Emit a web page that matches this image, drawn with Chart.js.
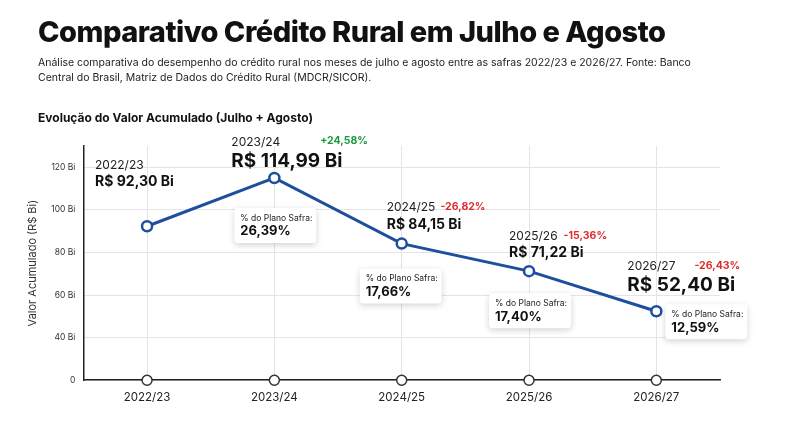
<!DOCTYPE html>
<html>
<head>
<meta charset="utf-8">
<script src="https://cdn.jsdelivr.net/npm/chart.js@4"></script>
<style>
  body { margin:0; background:#fff; font-family:Inter, "Noto Sans", sans-serif; }
  #wrap { position:relative; width:790px; height:422px; }
  canvas { position:absolute; left:0; top:0; }
  h1 { position:absolute; left:38px; top:14px; margin:0; font-size:29px; font-weight:800; color:#111; letter-spacing:-0.5px; }
  .sub { position:absolute; left:38px; top:55px; width:685px; font-size:10.5px; line-height:15px; color:#222; }
  .sec { position:absolute; left:38px; top:110px; font-size:12px; font-weight:700; color:#111; }
</style>
</head>
<body>
<div id="wrap">
  <canvas id="chart" width="790" height="422"></canvas>
  <h1>Comparativo Crédito Rural em Julho e Agosto</h1>
  <div class="sub">Análise comparativa do desempenho do crédito rural nos meses de julho e agosto entre as safras 2022/23 e 2026/27. Fonte: Banco Central do Brasil, Matriz de Dados do Crédito Rural (MDCR/SICOR).</div>
  <div class="sec">Evolução do Valor Acumulado (Julho + Agosto)</div>
</div>
<script>
const safras = ['2022/23', '2023/24', '2024/25', '2025/26', '2026/27'];
const valores = [92.30, 114.99, 84.15, 71.22, 52.40];
const valorLabels = ['R$ 92,30 Bi', 'R$ 114,99 Bi', 'R$ 84,15 Bi', 'R$ 71,22 Bi', 'R$ 52,40 Bi'];
const variacoes = ['', '+24,58%', '-26,82%', '-15,36%', '-26,43%'];
const planoSafra = ['', '26,39%', '17,66%', '17,40%', '12,59%'];
const yTicks = [20, 40, 60, 80, 100, 120]; // 20 is shown as "0" (broken axis)

// label offsets relative to each point (layout only)
const layout = [
  { lx: -52, ly: -67, big: false, gap: 0, bx: 0, by: 0 },
  { lx: -43, ly: -38, big: true, gap: 40, bx: -40, by: 30 },
  { lx: -15, ly: -42, big: false, gap: 5, bx: -42, by: 25 },
  { lx: -20, ly: -41, big: false, gap: 6, bx: -40, by: 22 },
  { lx: -29, ly: -47, big: true, gap: 19, bx: 9, by: -7 }
];

const annot = {
  id: 'annot',
  afterDatasetsDraw(chart) {
    const c = chart.ctx;
    const pts = chart.getDatasetMeta(0).data;
    c.save();
    c.textBaseline = 'top';
    pts.forEach((p, i) => {
      const L = layout[i];
      const x = p.x + L.lx, y = p.y + L.ly;
      const yy = L.big ? y - 4 : y;
      c.fillStyle = '#222';
      c.font = '12px Inter';
      c.fillText(safras[i], x, yy);
      const yw = c.measureText(safras[i]).width;
      c.fillStyle = '#111';
      c.font = 'bold ' + (L.big ? '19px' : '14px') + ' Inter';
      c.fillText(valorLabels[i], x, L.big ? y + 12 : y + 16);
      if (variacoes[i]) {
        c.fillStyle = variacoes[i][0] === '+' ? '#1a9a3a' : '#e02b2b';
        c.font = 'bold 10.5px Inter';
        c.fillText(variacoes[i], x + yw + L.gap, yy);
      }
      if (planoSafra[i]) {
        const bx = p.x + L.bx, by = p.y + L.by, w = 82, h = 35;
        c.shadowColor = 'rgba(0,0,0,0.18)';
        c.shadowBlur = 6;
        c.shadowOffsetY = 2;
        c.fillStyle = '#fff';
        c.beginPath();
        c.roundRect(bx, by, w, h, 4);
        c.fill();
        c.shadowColor = 'transparent';
        c.fillStyle = '#222';
        c.font = '8.5px Inter';
        c.fillText('% do Plano Safra:', bx + 6, by + 6);
        c.fillStyle = '#111';
        c.font = 'bold 13px Inter';
        c.fillText(planoSafra[i], bx + 6, by + 17);
      }
    });
    c.restore();
  }
};

new Chart(document.getElementById('chart'), {
  type: 'line',
  data: {
    labels: safras,
    datasets: [
      {
        data: valores,
        borderColor: '#1e4f9c',
        borderWidth: 3,
        pointRadius: 5,
        pointBorderWidth: 2.5,
        pointBackgroundColor: '#fff',
        pointBorderColor: '#1e4f9c',
        tension: 0
      },
      {
        // axis markers at the baseline
        data: safras.map(() => 20),
        showLine: false,
        pointRadius: 5,
        pointBorderWidth: 1.5,
        pointBackgroundColor: '#fff',
        pointBorderColor: '#333',
        clip: false
      }
    ]
  },
  options: {
    responsive: false,
    animation: false,
    layout: { padding: { top: 146, left: 22, right: 70, bottom: 8 } },
    plugins: { legend: { display: false }, tooltip: { enabled: false } },
    scales: {
      x: {
        offset: true,
        grid: { color: '#e4e4e4', drawTicks: false },
        border: { color: '#222', width: 1.5 },
        ticks: { color: '#222', font: { family: 'Inter', size: 11.5 }, padding: 10 }
      },
      y: {
        min: 20, max: 130,
        afterBuildTicks: axis => { axis.ticks = yTicks.map(v => ({ value: v })); },
        grid: { color: '#e4e4e4', drawTicks: false },
        border: { color: '#222', width: 1.5 },
        ticks: {
          color: '#333', font: { family: 'Inter', size: 8.5 }, padding: 8,
          callback: v => v === 20 ? '0' : v + ' Bi'
        },
        title: { display: true, text: 'Valor Acumulado (R$ Bi)', color: '#333', font: { family: 'Inter', size: 11 } }
      }
    }
  },
  plugins: [annot]
});
</script>
</body>
</html>
